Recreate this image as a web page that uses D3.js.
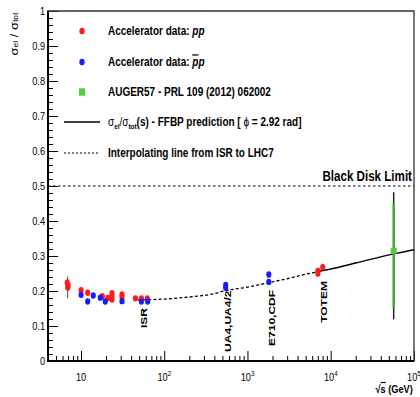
<!DOCTYPE html>
<html><head><meta charset="utf-8">
<script src="https://cdn.jsdelivr.net/npm/d3@7"></script>
<style>
body{margin:0;background:#fff}
svg{display:block}
text{font-family:"Liberation Sans",Arial,Helvetica,sans-serif;fill:#000}
</style>
</head><body><svg id="c" width="420" height="397"></svg>
<script>
// ---------- data ----------
const ppSqrtS = [6.8, 6.9, 7.0, 10, 12, 18, 21, 23.5, 23.5, 23.5, 31, 31, 45, 53, 62.5, 7000, 7000, 8000];
const ppRatio = [0.224, 0.210, 0.216, 0.202, 0.195, 0.185, 0.180, 0.194, 0.185, 0.176, 0.190, 0.183, 0.179, 0.179, 0.179, 0.257, 0.250, 0.268];
const ppErr   = [0.010, 0.031, 0.010, 0.008, 0.007, 0.006, 0.006, 0.007, 0.006, 0.006, 0.006, 0.006, 0.005, 0.005, 0.005, 0.007, 0.008, 0.010];

const pbpSqrtS = [10, 12, 14, 17, 19.5, 31, 53, 63, 546, 546, 1800, 1800];
const pbpRatio = [0.189, 0.170, 0.187, 0.181, 0.170, 0.171, 0.170, 0.170, 0.217, 0.209, 0.247, 0.226];
const pbpErr   = [0.006, 0.006, 0.006, 0.006, 0.006, 0.005, 0.005, 0.005, 0.006, 0.006, 0.008, 0.008];

const augerSqrtS = [57000];
const augerRatio = [0.315];
const augerStatLow = [0.151], augerStatHigh = [0.451];
const augerTotLow = [0.119], augerTotHigh = [0.482];

const ffbpSqrtS = [7000, 10000, 20000, 57000, 100000];
const ffbpRatio = [0.256, 0.263, 0.280, 0.306, 0.318];

const interpSqrtS = [48, 100, 150, 265, 356, 546, 1000, 1800, 3000, 5500, 7000];
const interpRatio = [0.174, 0.177, 0.180, 0.186, 0.190, 0.201, 0.211, 0.224, 0.235, 0.250, 0.255];

const blackDisk = 0.5;

const expLabels = ["ISR", "UA4,UA4/2", "E710,CDF", "TOTEM"];
const expLabelSqrtS = [56, 575, 1940, 8240];
const expLabelRatio = [0.094, 0.026, 0.043, 0.109];

const yTickValues = [0, 0.1, 0.2, 0.3, 0.4, 0.5, 0.6, 0.7, 0.8, 0.9, 1];
const yTickLabels = ["0", "0.1", "0.2", "0.3", "0.4", "0.5", "0.6", "0.7", "0.8", "0.9", "1"];
const xTickValues = [10, 100, 1000, 10000, 100000];
const xTickExp = ["", "2", "3", "4", "5"];

const legendLabels = ["Accelerator data: ", "Accelerator data: ", "AUGER57 - PRL 109 (2012) 062002", "", "Interpolating line from ISR to LHC7"];

// ---------- layout ----------
const sx = 0.8;                      // horizontal condensation of the reference
const m = {l: 60, r: 517.5, t: 11, b: 361};
const red = "#ff1a1a", blue = "#1a1aff", green = "#55cc44", greenBar = "#4aa83a";

const svg = d3.select("#c");
const g = svg.append("g").attr("transform", `scale(${sx},1)`);

const x = d3.scaleLog().domain([4, 1e5]).range([m.l, m.r]);
const y = d3.scaleLinear().domain([0, 1]).range([m.b, m.t]);

const NS = "non-scaling-stroke";

// clip
g.append("clipPath").attr("id", "clip").append("rect")
  .attr("x", m.l).attr("y", m.t).attr("width", m.r - m.l).attr("height", m.b - m.t);

// ---------- axes ticks ----------
const yMinor = d3.range(0, 51).map(i => i * 0.02).filter((v, i) => i % 5 !== 0);
g.append("g").attr("transform", `translate(${m.l},0)`)
  .call(d3.axisLeft(y).tickValues(yMinor).tickSize(-6.25).tickFormat(""))
  .call(a => a.select(".domain").remove());
g.append("g").attr("transform", `translate(${m.l},0)`)
  .call(d3.axisLeft(y).tickValues(yTickValues).tickSize(-12.5).tickPadding(3.75)
    .tickFormat((d, i) => yTickLabels[i]))
  .call(a => a.select(".domain").remove())
  .call(a => a.selectAll("text").attr("font-size", 11.5).attr("font-family", '"Liberation Sans",Arial,sans-serif'));

const xMinor = [];
for (let e = 0; e <= 4; e++) for (let k = 2; k <= 9; k++) {
  const v = k * Math.pow(10, e);
  if (v >= 4 && v <= 1e5) xMinor.push(v);
}
g.append("g").attr("transform", `translate(0,${m.b})`)
  .call(d3.axisBottom(x).tickValues(xMinor).tickSize(-5).tickFormat(""))
  .call(a => a.select(".domain").remove());
g.append("g").attr("transform", `translate(0,${m.b})`)
  .call(d3.axisBottom(x).tickValues(xTickValues).tickSize(-10).tickFormat(""))
  .call(a => a.select(".domain").remove());

g.selectAll(".tick line").attr("vector-effect", NS).attr("stroke", "#000").attr("stroke-width", 1);

// x tick labels with superscripts
xTickValues.forEach((v, i) => {
  const t = g.append("text").attr("x", x(v)).attr("y", 381.5)
    .attr("text-anchor", "middle").attr("font-size", 11.5).text("10");
  if (xTickExp[i]) t.append("tspan").attr("dy", -5).attr("font-size", 8).text(xTickExp[i]);
});

// frame
g.append("rect").attr("x", m.l).attr("y", m.t).attr("width", m.r - m.l).attr("height", m.b - m.t)
  .attr("fill", "none").attr("stroke", "#333").attr("stroke-width", 1.3).attr("vector-effect", NS);
g.append("line").attr("x1", m.l).attr("x2", m.l).attr("y1", m.t).attr("y2", m.b + 1)
  .attr("stroke", "#000").attr("stroke-width", 2).attr("vector-effect", NS);
g.append("line").attr("x1", m.l - 1).attr("x2", m.r).attr("y1", m.b).attr("y2", m.b)
  .attr("stroke", "#000").attr("stroke-width", 2).attr("vector-effect", NS);

// axis titles
g.append("text").attr("transform", `translate(516,393)`).attr("text-anchor", "end")
  .attr("font-size", 11.5).attr("font-weight", "bold")
  .call(t => { t.append("tspan").text("\u221A");
               t.append("tspan").style("text-decoration", "overline").text("s");
               t.append("tspan").text(" (GeV)"); });

g.append("text").attr("transform", `translate(16.5,34) rotate(-90)`).attr("text-anchor", "middle")
  .attr("dominant-baseline", "central").attr("font-size", 13)
  .call(t => { t.append("tspan").text("\u03C3");
               t.append("tspan").attr("font-size", 8.5).attr("dy", 3).text("el");
               t.append("tspan").attr("dy", -3).text(" / \u03C3");
               t.append("tspan").attr("font-size", 8.5).attr("dy", 3).text("tot"); });

// ---------- plot content ----------
const plot = g.append("g").attr("clip-path", "url(#clip)");

// black disk limit
plot.append("line").attr("x1", m.l).attr("x2", m.r).attr("y1", y(blackDisk)).attr("y2", y(blackDisk))
  .attr("stroke", "#000").attr("stroke-width", 1.2).attr("stroke-dasharray", "2.5,2.5").attr("vector-effect", NS);
g.append("text").attr("x", 515).attr("y", 181).attr("text-anchor", "end")
  .attr("font-size", 14.5).attr("font-weight", "bold").text("Black Disk Limit");

// interpolating line
const interp = interpSqrtS.map((s, i) => [s, interpRatio[i]]);
plot.append("path").datum(interp)
  .attr("d", d3.line().x(d => x(d[0])).y(d => y(d[1])).curve(d3.curveMonotoneX))
  .attr("fill", "none").attr("stroke", "#000").attr("stroke-width", 1.3)
  .attr("stroke-dasharray", "3,2.2").attr("vector-effect", NS);

// FFBP prediction
const ffbp = ffbpSqrtS.map((s, i) => [s, ffbpRatio[i]]);
plot.append("path").datum(ffbp)
  .attr("d", d3.line().x(d => x(d[0])).y(d => y(d[1])).curve(d3.curveMonotoneX))
  .attr("fill", "none").attr("stroke", "#000").attr("stroke-width", 1.4).attr("vector-effect", NS);

// error bars
function errBars(S, R, E) {
  plot.append("g").selectAll("line").data(S).join("line")
    .attr("x1", d => x(d)).attr("x2", d => x(d))
    .attr("y1", (d, i) => y(R[i] - E[i])).attr("y2", (d, i) => y(R[i] + E[i]))
    .attr("stroke", "#444").attr("stroke-width", 1).attr("vector-effect", NS);
}
errBars(ppSqrtS, ppRatio, ppErr);
errBars(pbpSqrtS, pbpRatio, pbpErr);

// markers
plot.append("g").selectAll("circle").data(ppSqrtS).join("circle")
  .attr("cx", d => x(d)).attr("cy", (d, i) => y(ppRatio[i])).attr("r", 3.2).attr("fill", red);
plot.append("g").selectAll("circle").data(pbpSqrtS).join("circle")
  .attr("cx", d => x(d)).attr("cy", (d, i) => y(pbpRatio[i])).attr("r", 3.2).attr("fill", blue);

// Auger
augerSqrtS.forEach((s, i) => {
  plot.append("line").attr("x1", x(s)).attr("x2", x(s)).attr("y1", y(augerTotLow[i])).attr("y2", y(augerTotHigh[i]))
    .attr("stroke", "#222").attr("stroke-width", 1.5).attr("vector-effect", NS);
  plot.append("line").attr("x1", x(s)).attr("x2", x(s)).attr("y1", y(augerStatLow[i])).attr("y2", y(augerStatHigh[i]))
    .attr("stroke", greenBar).attr("stroke-width", 2.4).attr("vector-effect", NS);
  plot.append("rect").attr("x", x(s) - 3.75).attr("y", y(augerRatio[i]) - 3).attr("width", 7.5).attr("height", 6)
    .attr("fill", green);
});

// experiment labels
expLabels.forEach((lab, i) => {
  g.append("text").attr("transform", `translate(${x(expLabelSqrtS[i])},${y(expLabelRatio[i])}) rotate(-90)`)
    .attr("text-anchor", "start").attr("dominant-baseline", "central")
    .attr("font-size", 12).attr("font-weight", "bold").text(lab);
});

// ---------- legend ----------
const rows = [31, 62, 92, 122, 153];
const lx = 102.5, tx = 135;
g.append("circle").attr("cx", lx).attr("cy", rows[0]).attr("r", 3.3).attr("fill", red);
g.append("circle").attr("cx", lx).attr("cy", rows[1]).attr("r", 3.3).attr("fill", blue);
g.append("rect").attr("x", lx - 3.75).attr("y", rows[2] - 3.7).attr("width", 7.5).attr("height", 7.4).attr("fill", green);
g.append("line").attr("x1", 80).attr("x2", 125).attr("y1", rows[3]).attr("y2", rows[3])
  .attr("stroke", "#000").attr("stroke-width", 1.4).attr("vector-effect", NS);
g.append("line").attr("x1", 80).attr("x2", 125).attr("y1", rows[4]).attr("y2", rows[4])
  .attr("stroke", "#000").attr("stroke-width", 1.2).attr("stroke-dasharray", "2,2").attr("vector-effect", NS);

const lt = rows.map(r => g.append("text").attr("x", tx).attr("y", r + 4.5)
  .attr("font-size", 12.5).attr("font-weight", "bold"));
lt[0].text(legendLabels[0]).append("tspan").attr("font-style", "italic").text("pp");
lt[1].text(legendLabels[1]);
lt[1].append("tspan").attr("font-style", "italic").style("text-decoration", "overline").text("p");
lt[1].append("tspan").attr("font-style", "italic").text("p");
lt[2].text(legendLabels[2]);
lt[3].call(t => {
  t.append("tspan").attr("font-weight", "normal").text("\u03C3");
  t.append("tspan").attr("font-size", 8).attr("dy", 3).text("el");
  t.append("tspan").attr("dy", -3).attr("font-weight", "normal").text("/\u03C3");
  t.append("tspan").attr("font-size", 8).attr("dy", 3).text("tot");
  t.append("tspan").attr("dy", -3).text("(s) - FFBP prediction [  ");
  t.append("tspan").attr("font-weight", "normal").text("\u03D5");
  t.append("tspan").text(" = 2.92 rad]");
});
lt[4].text(legendLabels[4]);
</script>
</body></html>
